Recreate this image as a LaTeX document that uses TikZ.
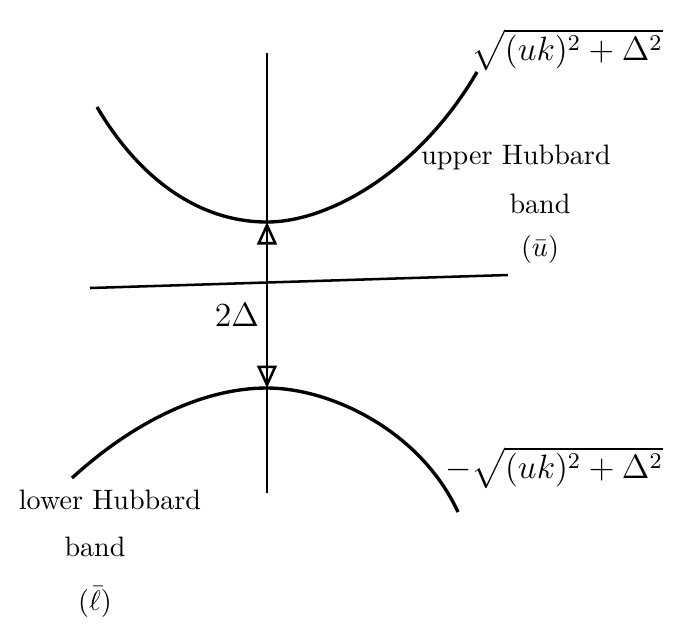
\documentclass[tikz,border=0pt]{standalone}
\usepackage{amsmath,amssymb}
\usepackage{tikz}
\usetikzlibrary{arrows.meta}
\tikzset{band/.style={line width=1.2pt},
  axis/.style={line width=0.9pt},
  lbl/.style={inner sep=1pt},
  mlbl/.style={font=\large, inner sep=1pt}}

\begin{document}
\begin{tikzpicture}[x=0.0125cm,y=-0.0125cm]
  \useasboundingbox (0,0) rectangle (678,630);
  % Axes
  \coordinate (ktop) at (267,53);
  \coordinate (kbot) at (267,493);
  \coordinate (eleft) at (90,288);
  \coordinate (eright) at (508,275);
  \draw[axis] (ktop) -- (kbot);
  \draw[axis] (eleft) -- (eright);
  % Upper band
  \coordinate (uleft) at (97,107);
  \coordinate (umin) at (267,222);
  \coordinate (uright) at (477,72);
  \draw[band] (uleft) .. controls (140,180) and (200,222) .. (umin)
    .. controls (330,222) and (420,170) .. (uright);
  % Lower band
  \coordinate (lleft) at (72,478);
  \coordinate (lmax) at (267,388);
  \coordinate (lright) at (458,512);
  \draw[band] (lleft) .. controls (130,425) and (200,388) .. (lmax)
    .. controls (330,388) and (420,430) .. (lright);
  % Gap
  \draw[axis, {Triangle[open,length=8pt,width=7pt]}-{Triangle[open,length=8pt,width=7pt]}] (lmax) -- (umin);
  \node[mlbl] (gap) at (237,315) {$2\Delta$};
  % Labels
  \node[mlbl] (Eup) at (567,50) {$\sqrt{(uk)^2+\Delta^2}$};
  \node[mlbl] (Elow) at (554,468) {$-\sqrt{(uk)^2+\Delta^2}$};
  \node[lbl] (up1) at (516,157) {upper Hubbard};
  \node[lbl] (up2) at (540,204) {band};
  \node[lbl] (up3) at (540,249) {($\bar{u}$)};
  \node[lbl] (lo1) at (110,500) {lower Hubbard};
  \node[lbl] (lo2) at (95,547) {band};
  \node[lbl] (lo3) at (95,602) {($\bar{\ell}$)};
\end{tikzpicture}
\end{document}
